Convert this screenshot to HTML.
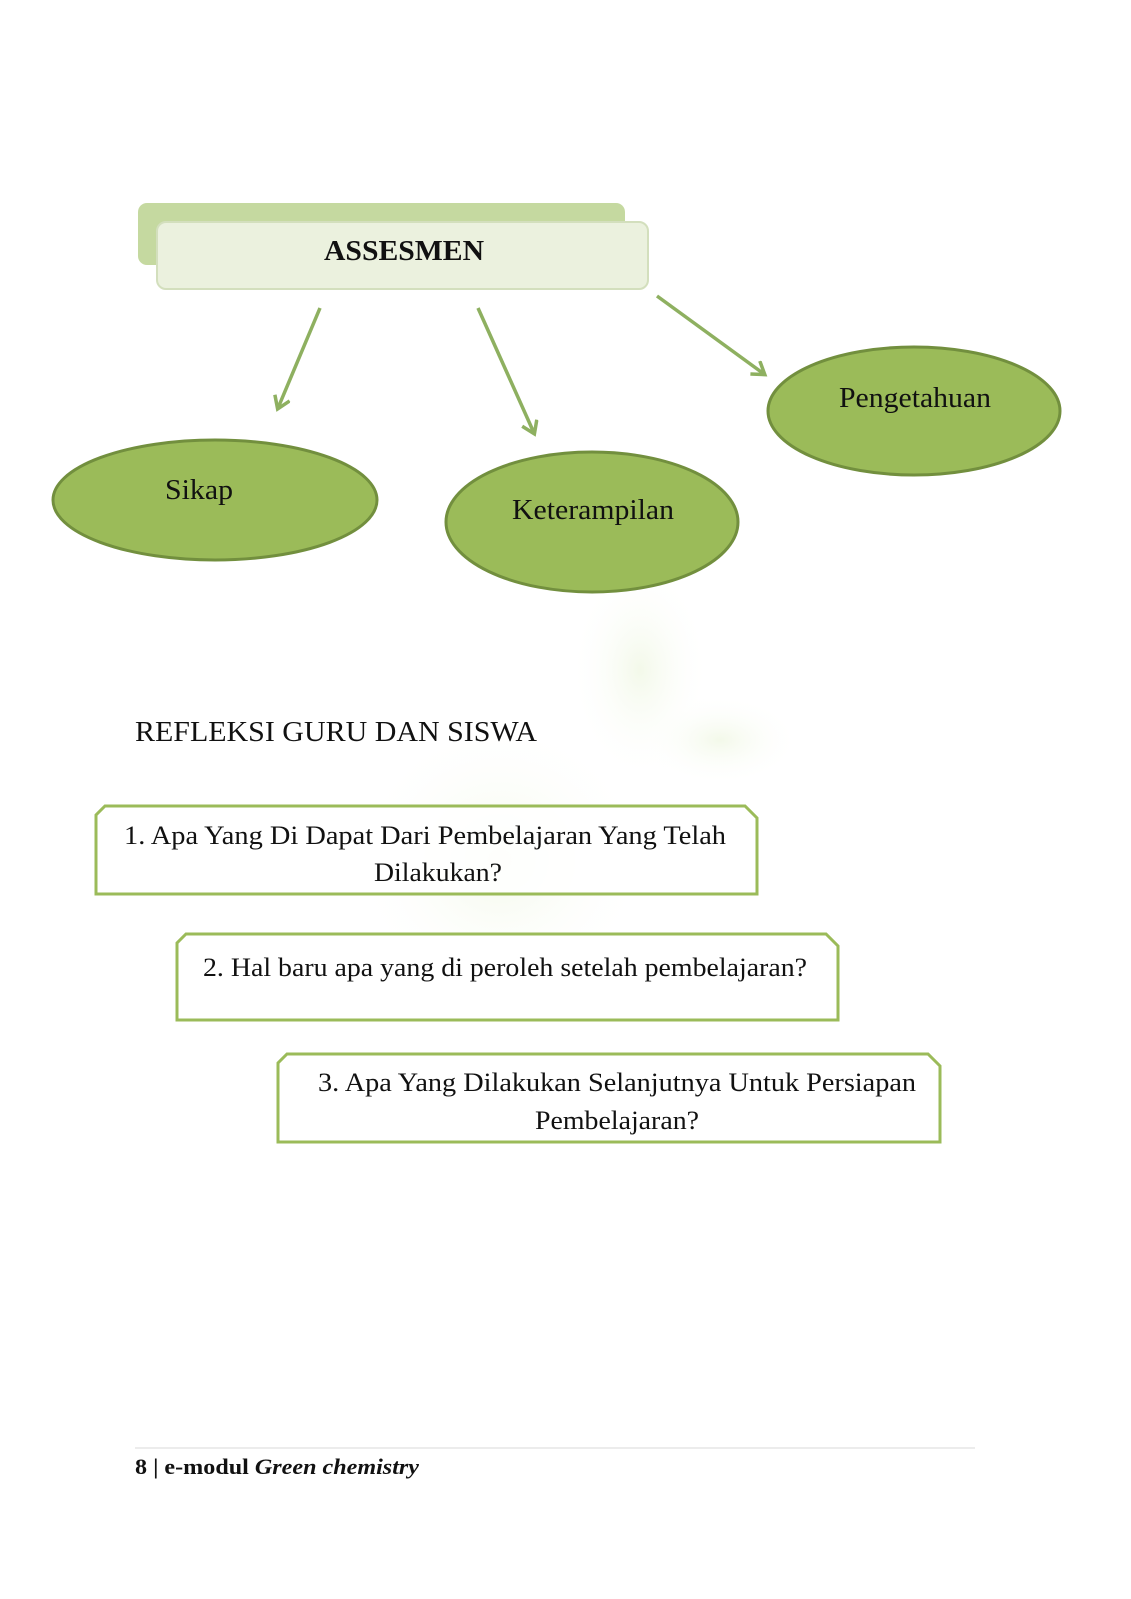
<!DOCTYPE html>
<html><head><meta charset="utf-8"><style>
html,body{margin:0;padding:0;background:#fff;}
svg{display:block;}
text{font-family:"Liberation Serif",serif;fill:#111;}
</style></head><body>
<svg width="1131" height="1599" viewBox="0 0 1131 1599" xmlns="http://www.w3.org/2000/svg">
<defs>
<radialGradient id="wm" cx="0.5" cy="0.5" r="0.5">
<stop offset="0" stop-color="#eef6e0" stop-opacity="0.7"/>
<stop offset="1" stop-color="#ffffff" stop-opacity="0"/>
</radialGradient>
<marker id="ah" markerWidth="20" markerHeight="20" refX="12" refY="9" orient="auto" markerUnits="userSpaceOnUse">
<path d="M1,1 L13,9 L1,17" fill="none" stroke="#8eb060" stroke-width="3.5"/>
</marker>
</defs>
<ellipse cx="500" cy="860" rx="150" ry="140" fill="url(#wm)"/>
<ellipse cx="640" cy="670" rx="70" ry="110" fill="url(#wm)"/>
<ellipse cx="720" cy="740" rx="80" ry="45" fill="url(#wm)"/>

<rect x="138" y="203" width="487" height="62" rx="9" fill="#c5d9a0"/>
<rect x="157" y="222" width="491" height="67" rx="9" fill="#ebf1de" stroke="#d3dfbd" stroke-width="2"/>
<text x="404" y="260" text-anchor="middle" font-size="28" font-weight="bold" textLength="160" lengthAdjust="spacingAndGlyphs">ASSESMEN</text>

<line x1="320" y1="308" x2="278" y2="408" stroke="#8eb060" stroke-width="3.5" marker-end="url(#ah)"/>
<line x1="478" y1="308" x2="534" y2="433" stroke="#8eb060" stroke-width="3.5" marker-end="url(#ah)"/>
<line x1="657" y1="296" x2="764" y2="374" stroke="#8eb060" stroke-width="3.5" marker-end="url(#ah)"/>

<ellipse cx="215" cy="500" rx="162" ry="60" fill="#9bbb59" stroke="#728f3e" stroke-width="3"/>
<text x="199" y="499" text-anchor="middle" font-size="28" textLength="68" lengthAdjust="spacingAndGlyphs">Sikap</text>
<ellipse cx="592" cy="522" rx="146" ry="70" fill="#9bbb59" stroke="#728f3e" stroke-width="3"/>
<text x="593" y="519" text-anchor="middle" font-size="28" textLength="162" lengthAdjust="spacingAndGlyphs">Keterampilan</text>
<ellipse cx="914" cy="411" rx="146" ry="64" fill="#9bbb59" stroke="#728f3e" stroke-width="3"/>
<text x="915" y="407" text-anchor="middle" font-size="28" textLength="152" lengthAdjust="spacingAndGlyphs">Pengetahuan</text>

<text x="135" y="741" font-size="28" textLength="402" lengthAdjust="spacingAndGlyphs">REFLEKSI GURU DAN SISWA</text>

<path d="M105,806 L745,806 L757,818 L757,894 L96,894 L96,815 Z" fill="#fff" fill-opacity="0.85" stroke="#9bbb59" stroke-width="3"/>
<text x="425" y="844" text-anchor="middle" font-size="26" textLength="602" lengthAdjust="spacingAndGlyphs">1. Apa Yang Di Dapat Dari Pembelajaran Yang Telah</text>
<text x="438" y="881" text-anchor="middle" font-size="26" textLength="128" lengthAdjust="spacingAndGlyphs">Dilakukan?</text>

<path d="M186,934 L826,934 L838,946 L838,1020 L177,1020 L177,943 Z" fill="#fff" fill-opacity="0.85" stroke="#9bbb59" stroke-width="3"/>
<text x="505" y="976" text-anchor="middle" font-size="26" textLength="604" lengthAdjust="spacingAndGlyphs">2. Hal baru apa yang di peroleh setelah pembelajaran?</text>

<path d="M287,1054 L928,1054 L940,1066 L940,1142 L278,1142 L278,1063 Z" fill="#fff" fill-opacity="0.85" stroke="#9bbb59" stroke-width="3"/>
<text x="617" y="1091" text-anchor="middle" font-size="26" textLength="598" lengthAdjust="spacingAndGlyphs">3. Apa Yang Dilakukan Selanjutnya Untuk Persiapan</text>
<text x="617" y="1129" text-anchor="middle" font-size="26" textLength="164" lengthAdjust="spacingAndGlyphs">Pembelajaran?</text>

<line x1="135" y1="1448" x2="975" y2="1448" stroke="#e6e6e6" stroke-width="1.5"/>
<text x="135" y="1474" font-size="22" font-weight="bold" textLength="284" lengthAdjust="spacingAndGlyphs">8 | e-modul <tspan font-style="italic">Green chemistry</tspan></text>
</svg>
</body></html>
